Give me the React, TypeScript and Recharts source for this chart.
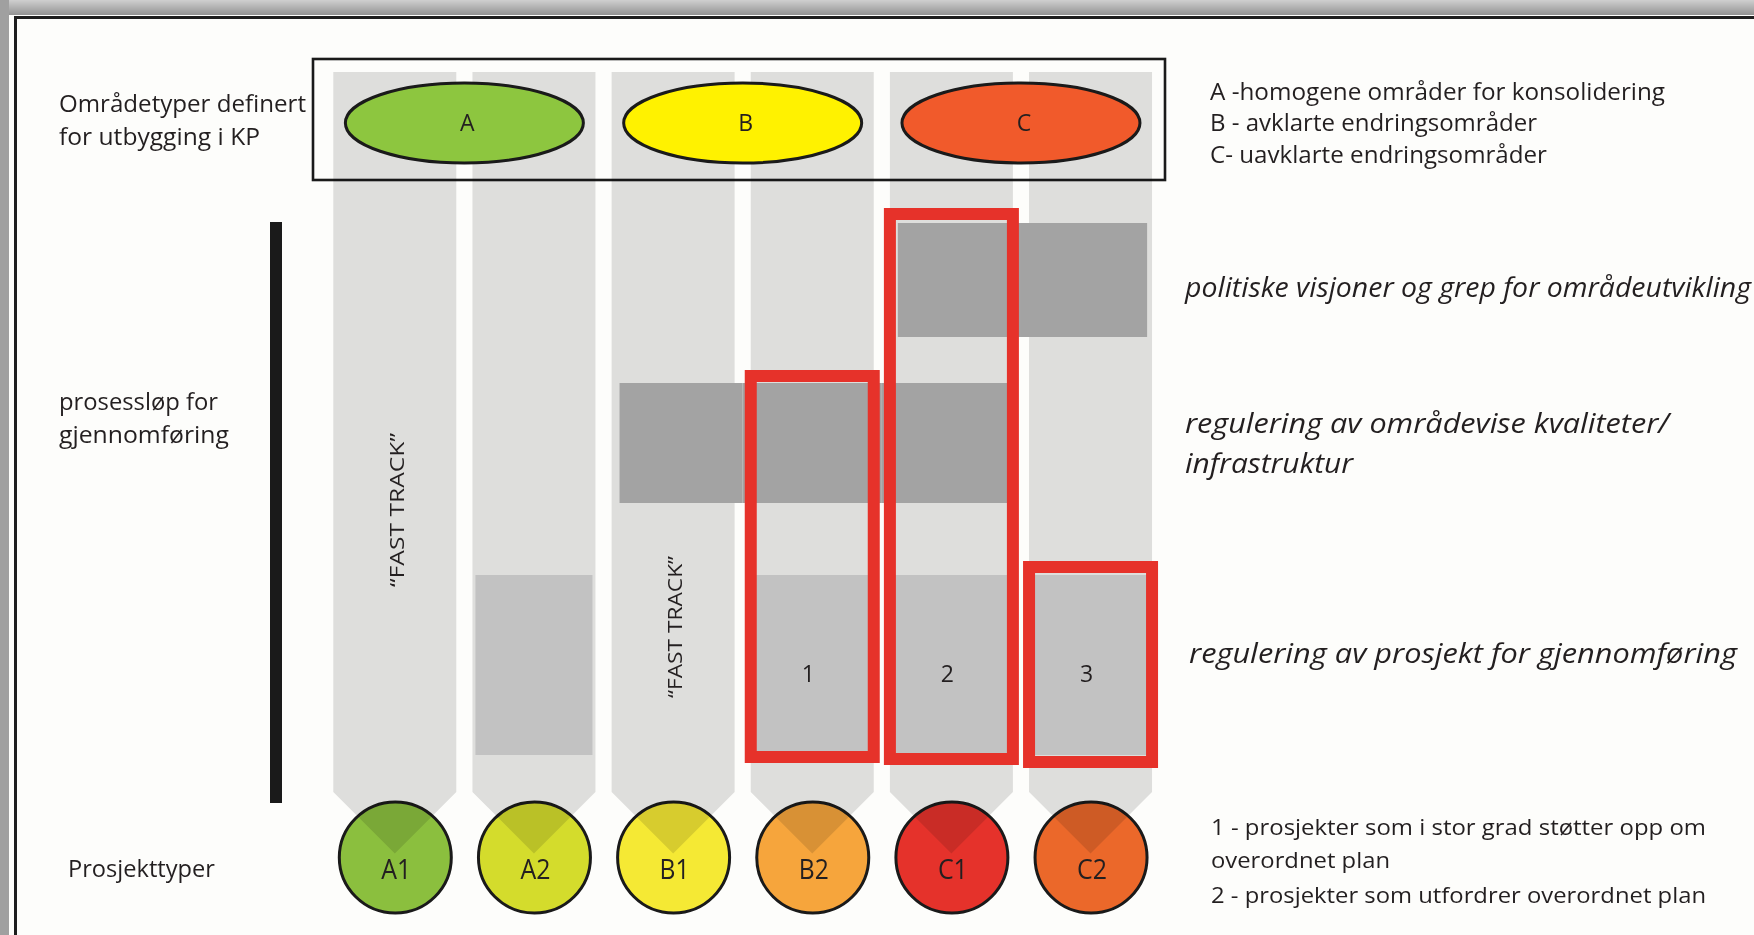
import React from 'react';
import { ComposedChart, Bar, XAxis, YAxis, Customized } from 'recharts';

// ---------- data ----------
const projectTypes = ['A1', 'A2', 'B1', 'B2', 'C1', 'C2'];
const projectColors = ['#8bbf3e', '#d4dc2c', '#f5e934', '#f6a53c', '#e5322b', '#eb682a'];
const columnSpan: [number, number][] = [[72, 792], [72, 792], [72, 792], [72, 792], [72, 792], [72, 792]];
const circleSpan: [number, number][] = [[802, 913], [802, 913], [802, 913], [802, 913], [802, 913], [802, 913]];
const visionBand: ([number, number] | null)[] = [null, null, null, null, [223, 337], [223, 337]];
const areaRegBand: ([number, number] | null)[] = [null, null, [383, 503], [383, 503], [383, 503], null];
const projectRegBand: ([number, number] | null)[] = [null, [575, 755], null, [575, 755], [575, 755], [575, 755]];
const projectBoxes: ([number, number] | null)[] = [null, null, null, [376, 757], [214, 759], [567, 762]];
const projectClass: (string | null)[] = [null, null, null, '1', '2', '3'];
const fastTrack: ([number, number] | null)[] = [[433, 587], null, [556, 698], null, null, null];

// area types: each spans a pair of project-type columns (first column of the pair carries it)
const areaTypes = ['A', 'B', 'C'];
const areaColors = ['#8dc63f', '#fff200', '#f15a2b'];
const areaOfColumn: (string | null)[] = ['A', null, 'B', null, 'C', null];
const areaSpan: [number, number] = [83, 163];

const areaLegend = [
  'A -homogene områder for konsolidering',
  'B - avklarte endringsområder',
  'C- uavklarte endringsområder',
];
const stageLabels = [
  ['politiske visjoner og grep for områdeutvikling'],
  ['regulering av områdevise kvaliteter/', 'infrastruktur'],
  ['regulering av prosjekt for gjennomføring'],
];
const projectLegend = [
  '1 - prosjekter som i stor grad støtter opp om',
  'overordnet plan',
  '2 - prosjekter som utfordrer overordnet plan',
];
const leftLabels = [
  ['Områdetyper definert', 'for utbygging i KP'],
  ['prosessløp for', 'gjennomføring'],
  ['Prosjekttyper'],
];

const data = projectTypes.map((name, i) => ({
  name,
  column: columnSpan[i],
  circle: circleSpan[i],
  vision: visionBand[i],
  area: areaRegBand[i],
  project: projectRegBand[i],
  box: projectBoxes[i],
  fast: fastTrack[i],
  ell: areaOfColumn[i] ? areaSpan : null,
}));

// ---------- layout ----------
const W = 1754;
const H = 935;
const PLOT_L = 325.3;
const PLOT_R = 1160.2;
const STEP = (PLOT_R - PLOT_L) / projectTypes.length;
const INSET = 13;
const FONT = "'Open Sans', 'Noto Sans', sans-serif";
const INK = '#231f20';

const norm = (p: any) => {
  const a = p.y;
  const b = p.y + p.height;
  return [Math.min(a, b), Math.max(a, b)];
};
const idxOf = (p: any) => projectTypes.indexOf(p.payload?.name);

const CircleShape = (p: any) => {
  const i = idxOf(p);
  if (i < 0) return null;
  const [t, b] = norm(p);
  const cx = p.x + p.width / 2;
  const cy = (t + b) / 2;
  return (
    <g>
      <ellipse cx={cx} cy={cy} rx={p.width / 2} ry={(b - t) / 2} fill={projectColors[i]} stroke="#1a1a1a" strokeWidth={3} />
      <text x={cx + 1} y={cy + 21} textAnchor="middle" fontFamily={FONT} fontSize={27} fill={INK} textLength={30} lengthAdjust="spacingAndGlyphs">
        {projectTypes[i]}
      </text>
    </g>
  );
};

const ColumnShape = (p: any) => {
  const [t, b] = norm(p);
  const x = p.x;
  const w = p.width;
  const cx = x + w / 2;
  const d = `M${x},${t} L${x + w},${t} L${x + w},${b} L${cx},${b + w / 2} L${x},${b} Z`;
  return <path d={d} fill="#e0e0e0" style={{ mixBlendMode: 'multiply' }} />;
};

const makeBand = (arr: any[], fill: string) => (p: any) => {
  const i = idxOf(p);
  if (i < 0 || !arr[i]) return null;
  const [t, b] = norm(p);
  const cx = p.x + p.width / 2;
  let l = cx - STEP / 2;
  let r = cx + STEP / 2;
  if (!arr[i - 1]) l += INSET + 3;
  if (!arr[i + 1]) r -= INSET;
  return <rect x={l} y={t} width={r - l} height={b - t} fill={fill} />;
};

const ProjectBand = (p: any) => {
  const i = idxOf(p);
  if (i < 0 || !projectRegBand[i]) return null;
  const [t, b] = norm(p);
  const cx = p.x + p.width / 2;
  return (
    <g>
      <rect x={p.x} y={t} width={p.width} height={b - t} fill="#c2c2c2" />
      {projectClass[i] && (
        <text x={cx - 4} y={(t + b) / 2 + 17} textAnchor="middle" fontFamily={FONT} fontSize={23} fill={INK}>
          {projectClass[i]}
        </text>
      )}
    </g>
  );
};

const BoxShape = (p: any) => {
  const i = idxOf(p);
  if (i < 0 || !projectBoxes[i]) return null;
  const [t, b] = norm(p);
  return <rect x={p.x} y={t} width={p.width} height={b - t} fill="none" stroke="#e6322a" strokeWidth={12} />;
};

const FastShape = (p: any) => {
  const i = idxOf(p);
  if (i < 0 || !fastTrack[i]) return null;
  const [t, b] = norm(p);
  const cx = p.x + p.width / 2;
  return (
    <text
      transform={`translate(${cx + 9},${(t + b) / 2}) rotate(-90)`}
      textAnchor="middle"
      fontFamily={FONT}
      fontSize={20}
      fill={INK}
      textLength={b - t}
      lengthAdjust="spacingAndGlyphs"
    >
      “FAST TRACK”
    </text>
  );
};

// the bar carries the half-width of the ellipse; the ellipse spans the pair of columns starting here
const EllipseShape = (p: any) => {
  const i = idxOf(p);
  if (i < 0 || !areaOfColumn[i]) return null;
  const g = areaTypes.indexOf(areaOfColumn[i] as string);
  const [t, b] = norm(p);
  const cx = p.x + p.width / 2 + STEP / 2;
  const cy = (t + b) / 2;
  return (
    <g>
      <ellipse cx={cx} cy={cy} rx={p.width} ry={(b - t) / 2} fill={areaColors[g]} stroke="#1a1a1a" strokeWidth={3} />
      <text x={cx + 3} y={cy + 8} textAnchor="middle" fontFamily={FONT} fontSize={23} fill={INK}>
        {areaTypes[g]}
      </text>
    </g>
  );
};

const T = ({ x, y, w, size = 23, italic = false, children }: any) => (
  <text
    x={x}
    y={y}
    fontFamily={FONT}
    fontSize={size}
    fontStyle={italic ? 'italic' : 'normal'}
    fill={INK}
    textLength={w}
    lengthAdjust="spacingAndGlyphs"
  >
    {children}
  </text>
);

const Frame = () => (
  <g>
    <defs>
      <linearGradient id="topGrad" x1="0" y1="0" x2="0" y2="1">
        <stop offset="0" stopColor="#cfcfcf" />
        <stop offset="1" stopColor="#939393" />
      </linearGradient>
    </defs>
    <rect x={0} y={0} width={W} height={15} fill="url(#topGrad)" />
    <rect x={0} y={0} width={9} height={H} fill="#a0a0a0" />
    <rect x={14} y={16} width={W - 14} height={3} fill="#1e1e1e" />
    <rect x={14} y={16} width={3} height={H - 16} fill="#1e1e1e" />
    <rect x={270} y={222} width={12} height={581} fill="#1a1a1a" />
  </g>
);

const Overlay = () => (
  <g>
    <rect x={313} y={59} width={852} height={121} fill="none" stroke="#1a1a1a" strokeWidth={2.6} />
    <T x={59} y={112} w={247}>{leftLabels[0][0]}</T>
    <T x={59} y={145} w={201}>{leftLabels[0][1]}</T>
    <T x={59} y={410} w={159}>{leftLabels[1][0]}</T>
    <T x={59} y={443} w={170}>{leftLabels[1][1]}</T>
    <T x={68} y={877} w={147}>{leftLabels[2][0]}</T>

    <T x={1210} y={100} w={455}>{areaLegend[0]}</T>
    <T x={1210} y={131} w={327}>{areaLegend[1]}</T>
    <T x={1210} y={163} w={337}>{areaLegend[2]}</T>

    <T x={1185} y={297} w={566} size={28} italic>{stageLabels[0][0]}</T>
    <T x={1185} y={433} w={484} size={28} italic>{stageLabels[1][0]}</T>
    <T x={1185} y={473} w={168} size={28} italic>{stageLabels[1][1]}</T>
    <T x={1189} y={663} w={548} size={28} italic>{stageLabels[2][0]}</T>

    <T x={1211} y={835} w={495} size={22}>{projectLegend[0]}</T>
    <T x={1211} y={868} w={179} size={22}>{projectLegend[1]}</T>
    <T x={1211} y={903} w={495} size={22}>{projectLegend[2]}</T>
  </g>
);

export default function App() {
  return (
    <div style={{ position: 'absolute', left: 0, top: 0, width: W, height: H, background: '#fdfdfb' }}>
      <ComposedChart
        width={W}
        height={H}
        data={data}
        margin={{ top: 0, bottom: 0, left: PLOT_L, right: W - PLOT_R }}
      >
        <YAxis hide type="number" domain={[0, H]} reversed />
        <XAxis hide xAxisId="circ" dataKey="name" />
        <XAxis hide xAxisId="col" dataKey="name" />
        <XAxis hide xAxisId="vis" dataKey="name" />
        <XAxis hide xAxisId="area" dataKey="name" />
        <XAxis hide xAxisId="proj" dataKey="name" />
        <XAxis hide xAxisId="fast" dataKey="name" />
        <XAxis hide xAxisId="grp" dataKey="name" />
        <XAxis hide xAxisId="box" dataKey="name" />
        <Customized component={<Frame />} />
        <Bar xAxisId="circ" dataKey="circle" barSize={112} shape={CircleShape} isAnimationActive={false} />
        <Bar xAxisId="col" dataKey="column" barSize={123} shape={ColumnShape} isAnimationActive={false} />
        <Bar xAxisId="vis" dataKey="vision" barSize={123} shape={makeBand(visionBand, '#a3a3a3')} isAnimationActive={false} />
        <Bar xAxisId="area" dataKey="area" barSize={123} shape={makeBand(areaRegBand, '#a3a3a3')} isAnimationActive={false} />
        <Bar xAxisId="proj" dataKey="project" barSize={117} shape={ProjectBand} isAnimationActive={false} />
        <Bar xAxisId="fast" dataKey="fast" barSize={123} shape={FastShape} isAnimationActive={false} />
        <Bar xAxisId="grp" dataKey="ell" barSize={119} shape={EllipseShape} isAnimationActive={false} />
        <Bar xAxisId="box" dataKey="box" barSize={123} shape={BoxShape} isAnimationActive={false} />
        <Customized component={<Overlay />} />
      </ComposedChart>
    </div>
  );
}
